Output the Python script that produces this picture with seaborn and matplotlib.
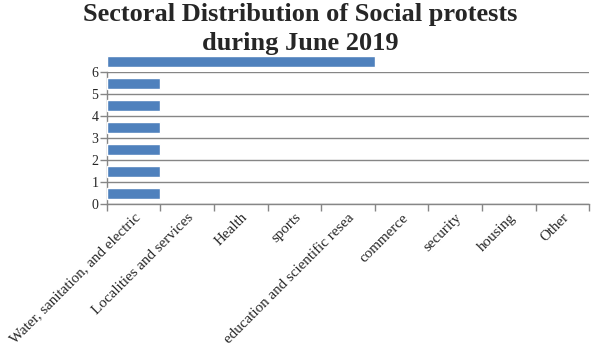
import numpy as np
import pandas as pd
import matplotlib
matplotlib.use("Agg")
import matplotlib.pyplot as plt
import seaborn as sns

# categories shown on the x axis
sectors = ["Water, sanitation, and electric", "Localities and services", "Health",
           "sports", "education and scientific resea", "commerce", "security",
           "housing", "Other"]
# the bars as they appear: vertical position and length (in category widths)
bar_pos = [0.5, 1.5, 2.5, 3.5, 4.5, 5.5, 6.5]
bar_len = [1, 1, 1, 1, 1, 1, 5]

df = pd.DataFrame({"pos": bar_pos, "len": bar_len})

sns.set_style("white")
plt.rcParams["font.family"] = ["Liberation Serif", "DejaVu Serif"]

fig = plt.figure(figsize=(6, 3.5), dpi=100)
ax = fig.add_axes([0.178, 0.417, 0.804, 0.377])

sns.barplot(data=df, x="len", y="pos", orient="h", native_scale=True,
            width=0.5, color="#4F81BD", saturation=1, ax=ax)
for p in ax.patches:
    p.set_clip_on(False)
    p.set_zorder(3)

ax.set_xlim(0, len(sectors))
ax.set_ylim(0, 6)
ax.set_xticks(np.arange(len(sectors) + 1))
ax.set_xticklabels([])
ax.set_xticks(np.arange(len(sectors)) + 0.5, minor=True)
ax.set_xticklabels(sectors, minor=True, rotation=45, ha="right", va="top",
                   rotation_mode="anchor", fontsize=10.8)
ax.tick_params(axis="x", which="minor", length=0, pad=5)
ax.tick_params(axis="x", which="major", length=5, color="#868686", width=1,
               direction="out", bottom=True)
ax.set_yticks(range(7))
ax.tick_params(axis="y", length=5, color="#868686", width=1, direction="out",
               left=True, labelsize=10, pad=1)
ax.yaxis.grid(True, color="#868686", linewidth=1)
ax.set_axisbelow(True)
for s in ["top", "right"]:
    ax.spines[s].set_visible(False)
for s in ["left", "bottom"]:
    ax.spines[s].set_color("#868686")
    ax.spines[s].set_linewidth(1)
ax.set_xlabel("")
ax.set_ylabel("")

fig.text(0.5, 0.99, "Sectoral Distribution of Social protests\nduring June 2019",
         ha="center", va="top", fontsize=19, fontweight="bold",
         linespacing=1.3)

plt.savefig("out.png", dpi=100)
